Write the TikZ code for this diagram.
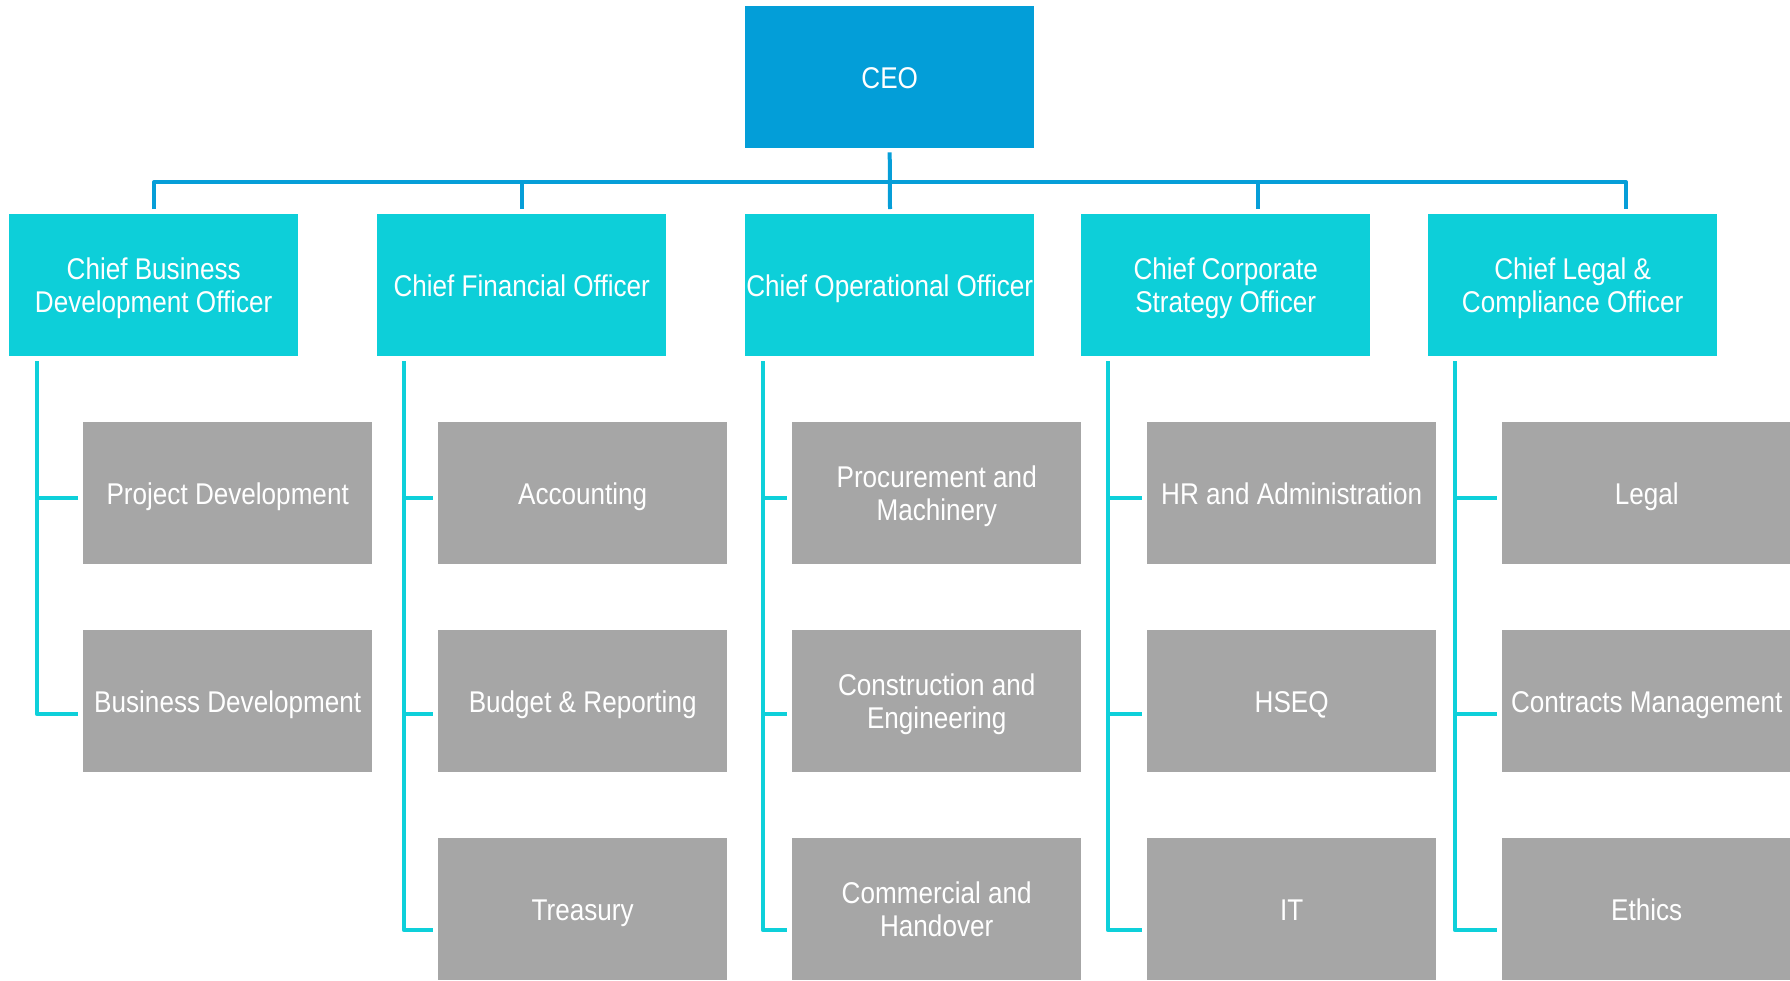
\documentclass[tikz,border=0pt]{standalone}
\usepackage{fontspec}
\setmainfont[FakeStretch=0.87]{Liberation Sans}
\definecolor{ceoblue}{HTML}{039ED8}
\definecolor{chiefcyan}{HTML}{0DCFD9}
\definecolor{deptgray}{HTML}{A6A6A6}
\definecolor{busblue}{HTML}{069ED8}
\definecolor{subcyan}{HTML}{0ED0DA}
\tikzset{
  box/.style={rectangle, anchor=north west, minimum width=289pt, minimum height=142pt,
    inner sep=0pt, align=center, text=white, text height=22pt, text depth=0pt,
    font=\fontsize{30}{33}\selectfont},
  twoline/.style={text height=55pt},
  ceobox/.style={box, fill=ceoblue},
  chiefbox/.style={box, fill=chiefcyan},
  deptbox/.style={box, fill=deptgray},
  bus/.style={draw=busblue, line width=4pt, line join=round},
  sub/.style={draw=subcyan, line width=4pt, line join=round}
}
\begin{document}
\begin{tikzpicture}[x=1pt,y=-1pt]
\useasboundingbox (0,0) rectangle (1790,980);
% CEO
\node[ceobox] (ceo) at (745,6) {CEO};
% Chiefs
\node[chiefbox,twoline] (cbdo) at (9,214) {Chief Business\\Development Officer};
\node[chiefbox] (cfo) at (377,214) {Chief Financial Officer};
\node[chiefbox] (coo) at (745,214) {Chief Operational Officer};
\node[chiefbox,twoline] (ccso) at (1081,214) {Chief Corporate\\Strategy Officer};
\node[chiefbox,twoline] (clco) at (1428,214) {Chief Legal \&\\Compliance Officer};
% Departments
\node[deptbox] (pd) at (83,422) {Project Development};
\node[deptbox] (bd) at (83,630) {Business Development};
\node[deptbox] (acc) at (438,422) {Accounting};
\node[deptbox] (bud) at (438,630) {Budget \& Reporting};
\node[deptbox] (tre) at (438,838) {Treasury};
\node[deptbox,twoline] (proc) at (792,422) {Procurement and\\Machinery};
\node[deptbox,twoline] (cons) at (792,630) {Construction and\\Engineering};
\node[deptbox,twoline] (comm) at (792,838) {Commercial and\\Handover};
\node[deptbox] (hr) at (1147,422) {HR and Administration};
\node[deptbox] (hseq) at (1147,630) {HSEQ};
\node[deptbox] (it) at (1147,838) {IT};
\node[deptbox] (leg) at (1502,422) {Legal};
\node[deptbox] (con) at (1502,630) {Contracts Management};
\node[deptbox] (eth) at (1502,838) {Ethics};
% bus coordinates
\coordinate (d1) at (154,209);
\coordinate (d2) at (522,209);
\coordinate (d3) at (890,209);
\coordinate (d4) at (1258,209);
\coordinate (d5) at (1626,209);
\coordinate (busy) at (0,182);
\draw[bus] (d1) -- (d1 |- busy) -- (d5 |- busy) -- (d5);
\draw[bus] (d2 |- busy) -- (d2);
\draw[bus] (d4 |- busy) -- (d4);
\draw[bus] ([yshift=-4pt]ceo.south) -- (d3);
% vertical spines
\coordinate (v1) at (37,361);
\coordinate (v2) at (404,361);
\coordinate (v3) at (763,361);
\coordinate (v4) at (1108,361);
\coordinate (v5) at (1455,361);
\draw[sub] (v1) |- ([xshift=-5pt,yshift=-13pt]bd.west);
\draw[sub] (v1 |- pd.west) ++(0,5) -- ([xshift=-5pt,yshift=-5pt]pd.west);
\foreach \v/\a/\b/\c in {v2/acc/bud/tre, v3/proc/cons/comm, v4/hr/hseq/it, v5/leg/con/eth}{
  \draw[sub] (\v) |- ([xshift=-5pt,yshift=-21pt]\c.west);
  \draw[sub] (\v |- \a.west) ++(0,5) -- ([xshift=-5pt,yshift=-5pt]\a.west);
  \draw[sub] (\v |- \b.west) ++(0,13) -- ([xshift=-5pt,yshift=-13pt]\b.west);
}
\end{tikzpicture}
\end{document}
